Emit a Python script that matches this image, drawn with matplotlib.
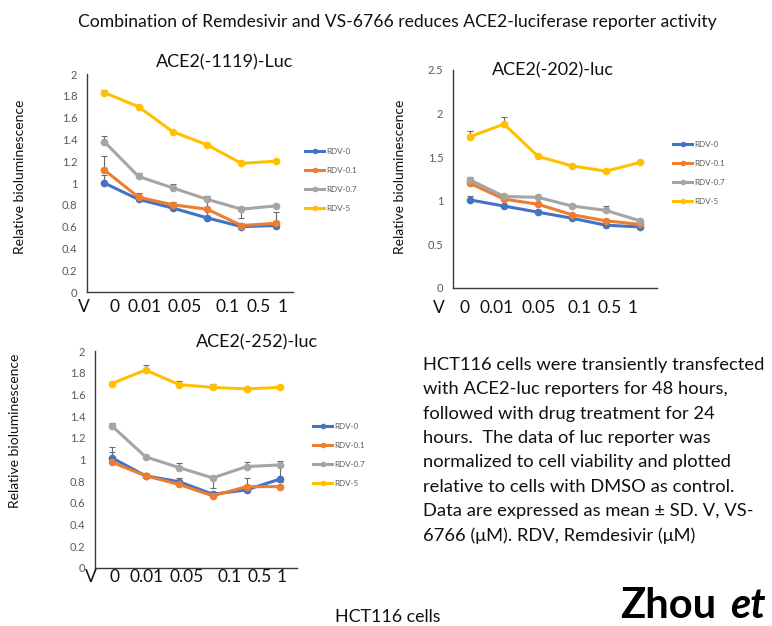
import matplotlib
matplotlib.use("Agg")
import matplotlib.pyplot as plt
from matplotlib.lines import Line2D

plt.rcParams['font.family'] = ['Lato', 'DejaVu Sans']

W, H = 772, 626

# VS-6766 doses (uM) on the x axis, one point per dose
vs_doses = ["0", "0.01", "0.05", "0.1", "0.5", "1"]
series_names = ["RDV-0", "RDV-0.1", "RDV-0.7", "RDV-5"]
series_colors = ["#4472C4", "#ED7D31", "#A5A5A5", "#FFC000"]

# ACE2(-1119)-Luc
p1_rdv0 = [1.00, 0.85, 0.77, 0.68, 0.60, 0.61]
p1_rdv01 = [1.12, 0.87, 0.80, 0.76, 0.61, 0.63]
p1_rdv07 = [1.38, 1.06, 0.955, 0.85, 0.76, 0.79]
p1_rdv5 = [1.83, 1.70, 1.47, 1.35, 1.18, 1.20]
p1_err_up = [[0.07, 0.02, 0.02, 0.02, 0.01, 0.01],
             [0.13, 0.04, 0.03, 0.12, 0.02, 0.10],
             [0.05, 0.03, 0.035, 0.03, 0.02, 0.01],
             [0.02, 0.01, 0.01, 0.01, 0.01, 0.01]]
p1_err_dn = [[0, 0, 0, 0, 0, 0],
             [0, 0, 0, 0.07, 0, 0],
             [0, 0, 0, 0, 0.08, 0],
             [0, 0, 0, 0, 0, 0]]

# ACE2(-202)-luc
p2_rdv0 = [1.01, 0.94, 0.87, 0.80, 0.72, 0.70]
p2_rdv01 = [1.20, 1.02, 0.96, 0.84, 0.77, 0.73]
p2_rdv07 = [1.24, 1.05, 1.04, 0.94, 0.89, 0.77]
p2_rdv5 = [1.735, 1.88, 1.51, 1.40, 1.34, 1.44]
p2_err_up = [[0.045, 0.01, 0.01, 0.01, 0.01, 0.01],
             [0.01, 0.01, 0.01, 0.01, 0.01, 0.01],
             [0.03, 0.01, 0.01, 0.02, 0.05, 0.01],
             [0.06, 0.08, 0.01, 0.01, 0.01, 0.01]]
p2_err_dn = [[0] * 6, [0] * 6, [0] * 6, [0] * 6]

# ACE2(-252)-luc
p3_rdv0 = [1.015, 0.85, 0.795, 0.68, 0.72, 0.82]
p3_rdv01 = [0.975, 0.85, 0.77, 0.665, 0.75, 0.75]
p3_rdv07 = [1.31, 1.025, 0.925, 0.83, 0.935, 0.95]
p3_rdv5 = [1.70, 1.825, 1.69, 1.665, 1.65, 1.665]
p3_err_up = [[0.10, 0.03, 0.035, 0.01, 0.01, 0.01],
             [0.09, 0.01, 0.01, 0.01, 0.08, 0.01],
             [0.03, 0.01, 0.045, 0.01, 0.045, 0.035],
             [0.01, 0.045, 0.03, 0.035, 0.015, 0.015]]
p3_err_dn = [[0, 0, 0, 0, 0, 0],
             [0, 0, 0, 0, 0, 0],
             [0, 0, 0, 0.09, 0, 0.16],
             [0, 0, 0, 0, 0, 0]]

panels = [
    dict(title="ACE2(-1119)-Luc", data=[p1_rdv0, p1_rdv01, p1_rdv07, p1_rdv5],
         up=p1_err_up, dn=p1_err_dn, ymax=2.0, step=0.2,
         box=(87, 74, 293, 292), title_xy=(225, 62), ylabel_xy=(20, 177),
         leg_xy=(305, 155), row_y=307,
         row_x=[78, 110, 128, 168, 215, 246, 278]),
    dict(title="ACE2(-202)-luc", data=[p2_rdv0, p2_rdv01, p2_rdv07, p2_rdv5],
         up=p2_err_up, dn=p2_err_dn, ymax=2.5, step=0.5,
         box=(453, 70, 657, 288), title_xy=(553, 70), ylabel_xy=(400, 177),
         leg_xy=(673, 148), row_y=308,
         row_x=[433, 460, 480, 522, 567, 597, 628]),
    dict(title="ACE2(-252)-luc", data=[p3_rdv0, p3_rdv01, p3_rdv07, p3_rdv5],
         up=p3_err_up, dn=p3_err_dn, ymax=2.0, step=0.2,
         box=(95, 351, 297, 568), title_xy=(257, 342), ylabel_xy=(15, 431),
         leg_xy=(313, 430), row_y=577,
         row_x=[85, 110, 130, 170, 217, 248, 277]),
]

fig = plt.figure(figsize=(W / 100, H / 100), dpi=100)


def fmt(v):
    s = f"{v:.1f}"
    return s[:-2] if s.endswith(".0") else s


for p in panels:
    x0, yt, x1, yb = p["box"]
    ax = fig.add_axes([x0 / W, 1 - yb / H, (x1 - x0) / W, (yb - yt) / H])
    xs = list(range(len(vs_doses)))
    for vals, up, dn, color, name in zip(p["data"], p["up"], p["dn"],
                                         series_colors, series_names):
        ax.errorbar(xs, vals, yerr=[dn, up], fmt="none", ecolor="#6b6b6b",
                    elinewidth=0.8, capsize=2.5, capthick=0.8, zorder=2)
        ax.plot(xs, vals, color=color, lw=2.2, marker="o", ms=4.5,
                label=name, zorder=3)
    ax.set_xlim(-0.5, len(vs_doses) - 0.5)
    ax.set_ylim(0, p["ymax"])
    n = int(round(p["ymax"] / p["step"]))
    ticks = [i * p["step"] for i in range(n + 1)]
    ax.set_yticks(ticks)
    ax.set_yticklabels([fmt(t) for t in ticks])
    ax.set_xticks([])
    ax.tick_params(axis="y", length=0, pad=7, labelsize=8, labelcolor="#595959")
    for s in ["top", "right"]:
        ax.spines[s].set_visible(False)
    for s in ["left", "bottom"]:
        ax.spines[s].set_color("#3a3a3a")
        ax.spines[s].set_linewidth(1.0)

    fig.text(p["title_xy"][0] / W, 1 - p["title_xy"][1] / H, p["title"],
             ha="center", va="center", fontsize=13, color="#111111")
    fig.text(p["ylabel_xy"][0] / W, 1 - p["ylabel_xy"][1] / H,
             "Relative bioluminescence", rotation=90, ha="center",
             va="center", fontsize=10, color="#111111")

    row_labels = ["V"] + vs_doses
    for lab, lx in zip(row_labels, p["row_x"]):
        fig.text(lx / W, 1 - p["row_y"] / H, lab, ha="left", va="center",
                 fontsize=12.5, color="#111111")

    handles = [Line2D([0], [0], color=c, lw=2.2, marker="o", ms=3)
               for c in series_colors]
    lx, ly = p["leg_xy"]
    fig.legend(handles, series_names, loc="upper left",
               bbox_to_anchor=(lx / W, 1 - (ly - 7) / H), frameon=False,
               fontsize=5.8, labelcolor="#595959", handlelength=2.4,
               handletextpad=0.2, labelspacing=1.5, borderpad=0,
               borderaxespad=0)

fig.text(397 / W, 1 - 22 / H,
         "Combination of Remdesivir and VS-6766 reduces ACE2-luciferase reporter activity",
         ha="center", va="center", fontsize=12.6, color="#111111")

caption = ("HCT116 cells were transiently transfected\n"
           "with ACE2-luc reporters for 48 hours,\n"
           "followed with drug treatment for 24\n"
           "hours.  The data of luc reporter was\n"
           "normalized to cell viability and plotted\n"
           "relative to cells with DMSO as control.\n"
           "Data are expressed as mean \u00b1 SD. V, VS-\n"
           "6766 (\u03bcM). RDV, Remdesivir (\u03bcM)")
fig.text(423 / W, 1 - 357 / H, caption, ha="left", va="top", fontsize=13.2,
         color="#111111", linespacing=1.64)

fig.text(388 / W, 1 - 617 / H, "HCT116 cells", ha="center", va="center",
         fontsize=12.8, color="#111111")
fig.text(620 / W, 1.5 / H, "Zhou", ha="left", va="bottom",
         fontsize=30, fontweight="bold", color="#000000")
fig.text(730 / W, 1.5 / H, "et", ha="left", va="bottom",
         fontsize=30, fontweight="bold", fontstyle="italic", color="#000000")

fig.savefig("out.png", dpi=100)
